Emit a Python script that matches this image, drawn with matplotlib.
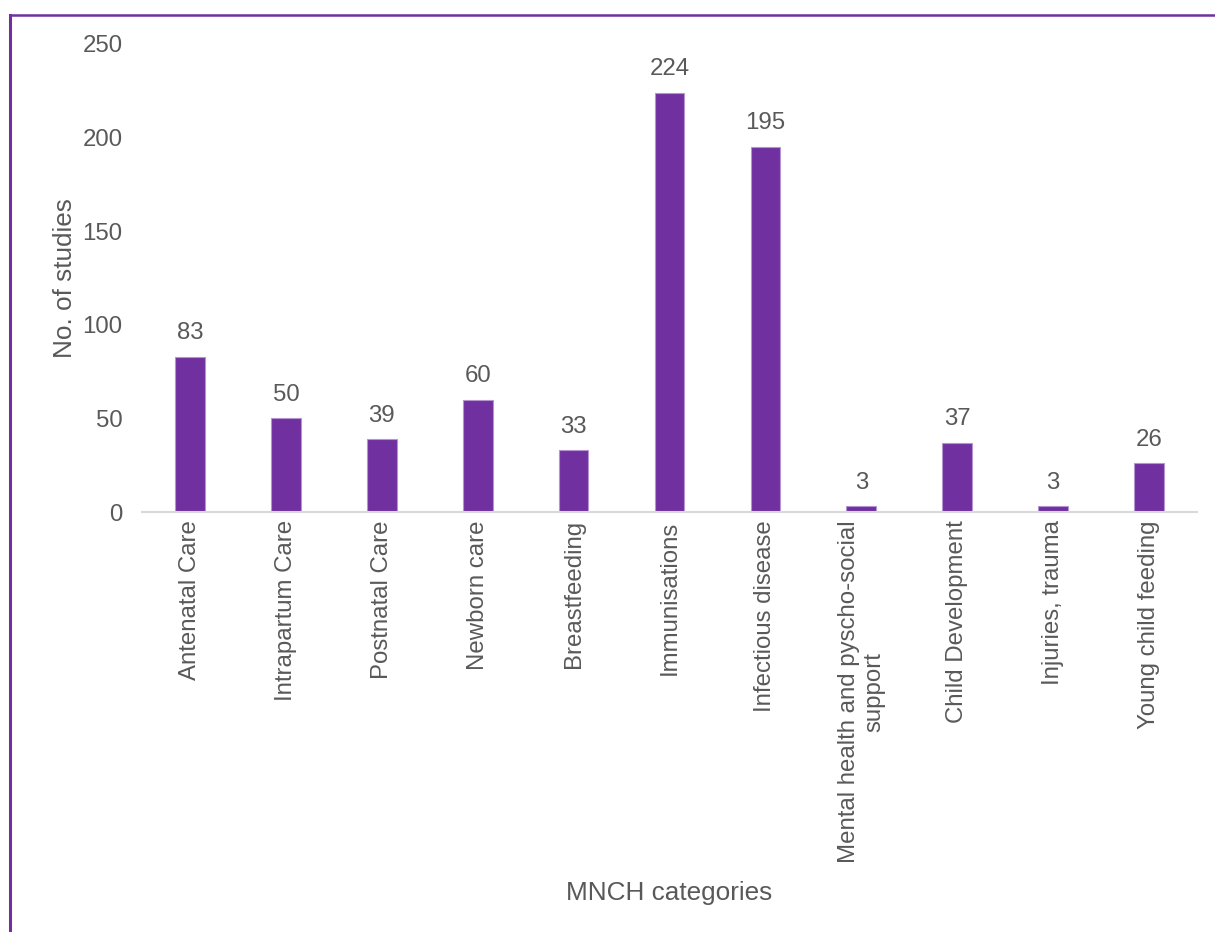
import matplotlib.pyplot as plt
from matplotlib.lines import Line2D

plt.rcParams['font.family'] = ['Liberation Sans', 'DejaVu Sans']

# studies per MNCH category
categories = ["Antenatal Care", "Intrapartum Care", "Postnatal Care", "Newborn care",
              "Breastfeeding", "Immunisations", "Infectious disease",
              "Mental health and pyscho-social\nsupport", "Child Development",
              "Injuries, trauma", "Young child feeding"]
studies = [83, 50, 39, 60, 33, 224, 195, 3, 37, 3, 26]
yticks = [0, 50, 100, 150, 200, 250]

bar_color = "#7030A0"
text_color = "#595959"

fig = plt.figure(figsize=(12.15, 9.32), dpi=100)
ax = fig.add_axes([0.1169, 0.4506, 0.8683, 0.5022])

x = range(len(categories))
bars = ax.bar(x, studies, width=0.31, color=bar_color, edgecolor="#B594D0", linewidth=0.8)

for b, v in zip(bars, studies):
    ax.annotate(str(v), (b.get_x() + b.get_width() / 2, v), xytext=(0, 9),
                textcoords="offset points", ha="center", va="bottom",
                fontsize=17.3, color=text_color)

ax.set_xlim(-0.5, len(categories) - 0.5)
ax.set_ylim(0, 250)
ax.set_yticks(yticks)
ax.set_xticks(list(x))
ax.set_xticklabels(categories, rotation=90, ha="center", va="top", multialignment="center")
ax.tick_params(axis="both", length=0, labelsize=17.3, labelcolor=text_color)
ax.tick_params(axis="y", pad=14)
ax.tick_params(axis="x", pad=6)

for s in ["top", "right", "left"]:
    ax.spines[s].set_visible(False)
ax.spines["bottom"].set_color("#D9D9D9")
ax.spines["bottom"].set_linewidth(1.5)

ax.set_ylabel("No. of studies", fontsize=18.8, color=text_color, labelpad=4)
fig.text(0.551, 1 - 893 / 932, "MNCH categories", ha="center", va="center",
         fontsize=18.8, color=text_color)

# purple frame around the chart area
fy = 1 - 14.5 / 932
fx = 10.5 / 1215
fig.add_artist(Line2D([fx, 1], [fy, fy], color=bar_color, linewidth=1.8, transform=fig.transFigure))
fig.add_artist(Line2D([fx, fx], [0, fy], color=bar_color, linewidth=2.2, transform=fig.transFigure))

fig.savefig("out.png", dpi=100)
